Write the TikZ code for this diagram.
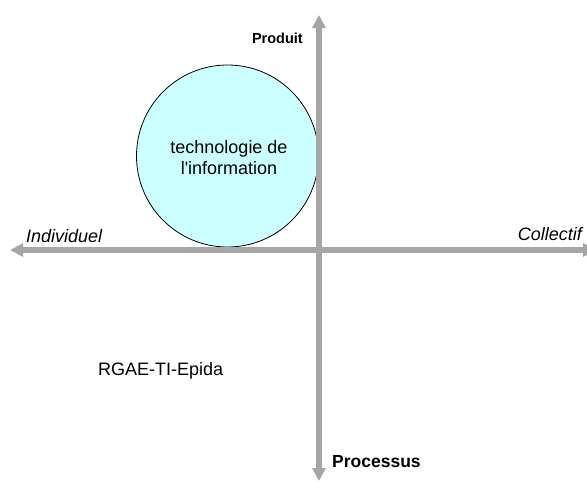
\documentclass[tikz,border=0pt]{standalone}
\usepackage{fontspec}
\setmainfont{Liberation Sans}[Ligatures=TeXOff]
\usetikzlibrary{arrows.meta}
\definecolor{axisgrey}{HTML}{A6A6A6}
\definecolor{circfill}{HTML}{CCFFFF}
\tikzset{
  axis/.style={draw=axisgrey, line width=6pt, {Triangle[length=13pt,width=13pt]}-{Triangle[length=13pt,width=13pt]}},
  bigtext/.style={font=\fontsize{18}{21}\selectfont, inner sep=0pt},
  axlabel/.style={font=\fontsize{18}{21}\selectfont\itshape, inner sep=0pt},
  boldsmall/.style={font=\fontsize{14.5}{17}\selectfont\bfseries, inner sep=0pt},
  boldbig/.style={font=\fontsize{17.5}{21}\selectfont\bfseries, inner sep=0pt},
  techcircle/.style={circle, draw=black, line width=0.8pt, fill=circfill, minimum size=182pt, inner sep=0pt}
}
\begin{document}
\begin{tikzpicture}[x=1pt,y=-1pt]
\useasboundingbox (0,0) rectangle (587,482);
\node[techcircle] (ti) at (227.5,156) {};
\node[bigtext, align=center] (titext) at (229,158) {technologie de\\l'information};
\coordinate (left) at (10,250);
\coordinate (right) at (596,250);
\coordinate (top) at (319,15);
\coordinate (bottom) at (319,481);
\draw[axis] (left) -- (right);
\draw[axis] (top) -- (bottom);
\node[axlabel, anchor=base west] (indiv) at (26,242) {Individuel};
\node[axlabel, anchor=base east] (coll) at (582,240) {Collectif};
\node[boldsmall, anchor=base east] (prod) at (303,43) {Produit};
\node[boldbig, anchor=base west] (proc) at (332,467) {Processus};
\node[bigtext, anchor=base west] (rgae) at (98,375) {RGAE-TI-Epida};
\end{tikzpicture}
\end{document}
